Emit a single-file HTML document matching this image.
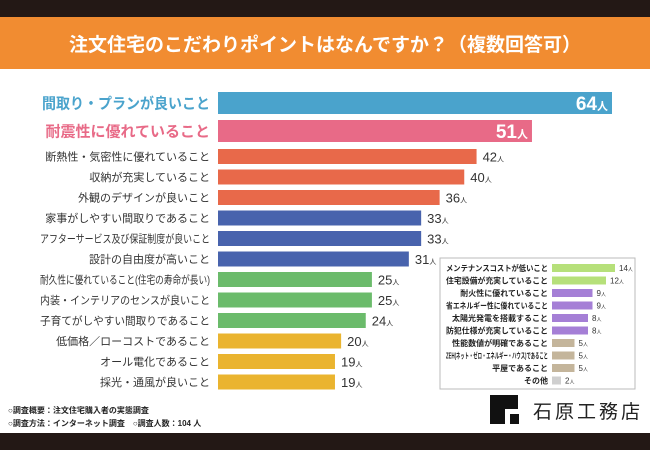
<!DOCTYPE html>
<html><head><meta charset="utf-8">
<style>
html,body{margin:0;padding:0;background:#fff;}
svg{display:block;font-family:"Liberation Sans","Noto Sans CJK JP",sans-serif;}
</style></head>
<body>
<svg id="chart" width="650" height="450" viewBox="0 0 650 450">
<rect x="0" y="0" width="650" height="17" fill="#231815"/>
<rect x="0" y="17" width="650" height="52" fill="#f18c31"/>
<text x="325" y="51" text-anchor="middle" font-size="19" font-weight="bold" fill="#fff">注文住宅のこだわりポイントはなんですか？（複数回答可）</text>
<g id="main"></g>
<rect x="440" y="258" width="195" height="131" fill="#fff" stroke="#bbb" stroke-width="1"/>
<g id="inset"></g>
<text x="8" y="413" font-size="8" font-weight="bold" fill="#222">○調査概要：注文住宅購入者の実態調査</text>
<text x="8" y="426" font-size="8" font-weight="bold" fill="#222">○調査方法：インターネット調査　○調査人数：104 人</text>
<g>
<path d="M490 395 H518 V409 H505 V424 H490 Z" fill="#111"/>
<rect x="510" y="414" width="9" height="10" fill="#111"/>
<text x="533" y="418" font-size="19" fill="#222" letter-spacing="3">石原工務店</text>
</g>
<rect x="0" y="433" width="650" height="17" fill="#231815"/>
</svg>
<script>
const categories=["間取り・プランが良いこと","耐震性に優れていること","断熱性・気密性に優れていること","収納が充実していること","外観のデザインが良いこと","家事がしやすい間取りであること","アフターサービス及び保証制度が良いこと","設計の自由度が高いこと","耐久性に優れていること(住宅の寿命が長い)","内装・インテリアのセンスが良いこと","子育てがしやすい間取りであること","低価格／ローコストであること","オール電化であること","採光・通風が良いこと"];
const values=[64,51,42,40,36,33,33,31,25,25,24,20,19,19];
const colors=["#4aa3cc","#e86a87","#e8694a","#e8694a","#e8694a","#4863ad","#4863ad","#4863ad","#6bbb6b","#6bbb6b","#6bbb6b","#eab42f","#eab42f","#eab42f"];
const insetCategories=["メンテナンスコストが低いこと","住宅設備が充実していること","耐火性に優れていること","省エネルギー性に優れていること","太陽光発電を搭載すること","防犯仕様が充実していること","性能数値が明確であること","ZEH(ネット・ゼロ・エネルギー・ハウス)であること","平屋であること","その他"];
const insetValues=[14,12,9,9,8,8,5,5,5,2];
const insetColors=["#b6e07a","#b6e07a","#a57fd6","#a57fd6","#a57fd6","#a57fd6","#c4b59b","#c4b59b","#c4b59b","#cfcfcf"];
const NS="http://www.w3.org/2000/svg";
function mk(tag,attrs,parent,text){const e=document.createElementNS(NS,tag);for(const k in attrs)e.setAttribute(k,attrs[k]);if(text!==undefined)e.textContent=text;parent.appendChild(e);return e;}
function fit(t,max){const l=t.getComputedTextLength();if(l>max){t.setAttribute('textLength',max);t.setAttribute('lengthAdjust','spacingAndGlyphs');}}
const x0=218,sx=v=>v*(612-218)/64;
function rowY(i){if(i===0)return 103;if(i===1)return 131;return 156.5+(i-2)*20.5;}
const main=document.getElementById('main');
values.forEach((v,i)=>{
 const big=i<2,h=big?22:15,cy=rowY(i),w=sx(v);
 const r=mk('rect',{x:x0,y:cy-h/2,width:w,height:h,fill:colors[i]},main);
 
 
 const lab=mk('text',{x:210,y:cy+(big?5.5:4),'text-anchor':'end','font-size':big?15:11,'font-weight':big?'bold':'normal',fill:big?colors[i]:'#333'},main,categories[i]);
 
 
 fit(lab,big?168:170);
 let t;
 if(big){t=mk('text',{x:x0+w-4,y:cy+7,'text-anchor':'end','font-size':19,'font-weight':'bold',fill:'#fff'},main);}
 else{t=mk('text',{x:x0+w+6,y:cy+5,'font-size':13,fill:'#333'},main);}
 t.textContent=v;
 mk('tspan',{'font-size':big?11:7},t,'人');
 
 
});
const inset=document.getElementById('inset');
const ix0=552,isx=v=>v*4.5;
insetValues.forEach((v,i)=>{
 const cy=268+i*12.5,w=isx(v);
 const r=mk('rect',{x:ix0,y:cy-4,width:w,height:8,fill:insetColors[i]},inset);
 
 
 const lab=mk('text',{x:548,y:cy+3,'text-anchor':'end','font-size':8,'font-weight':'bold',fill:'#222'},inset,insetCategories[i]);
 
 
 fit(lab,102);
 const t=mk('text',{x:ix0+w+4,y:cy+3,'font-size':8,fill:'#333'},inset);
 t.textContent=v;
 mk('tspan',{'font-size':5},t,'人');
 
 
});
</script>
</body></html>
